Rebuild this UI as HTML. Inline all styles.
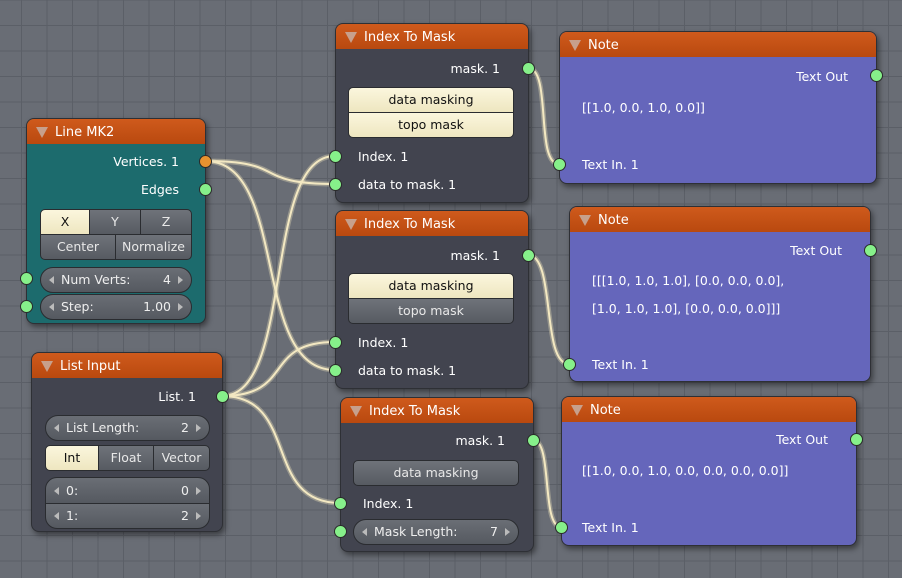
<!DOCTYPE html>
<html><head><meta charset="utf-8"><style>
*{box-sizing:border-box;margin:0;padding:0}
body{width:902px;height:578px;overflow:hidden;position:relative;font-family:"DejaVu Sans","Liberation Sans",sans-serif;font-size:12.5px;color:#fff;
background-color:#696d75;
background-image:linear-gradient(#5b5f67 1px,transparent 1px),linear-gradient(90deg,#5b5f67 1px,transparent 1px);
background-size:25.5px 25.5px;background-position:21px 25px}
.node{position:absolute;border-radius:8px;border:1px solid #2e3035;box-shadow:2px 3px 6px rgba(0,0,0,.45);overflow:hidden}
.hd{height:25px;background:linear-gradient(#cf5a1c,#b9490f);position:relative}
.hd span{position:absolute;left:28px;top:6px;font-size:13px;color:#fff}
.tri{position:absolute;left:9px;top:8px;width:0;height:0;border-left:6px solid transparent;border-right:6px solid transparent;border-top:11px solid #c7a08c}
.dark{background:#42444f}
.teal{background:#1c6b6d}
.note{background:#6566bb}
.t{position:absolute;line-height:16px;white-space:nowrap}
.r{text-align:right}
.sk{position:absolute;width:13px;height:13px;border-radius:50%;background:#86f08a;border:1px solid #2a2a2a;margin:-6.5px 0 0 -6.5px;z-index:5}
.btn{position:absolute;border:1px solid #2a2c30;background:linear-gradient(#6f737a,#575b62);color:#e8e8e8;text-align:center;font-size:12.5px}
.sel{background:linear-gradient(#fbf6dd,#eee6c0);color:#111}
.pill{position:absolute;border:1px solid #2a2c30;background:linear-gradient(#6a6e75,#555960);border-radius:13px;color:#eee;font-size:12.5px}
.pill .a{position:absolute;top:50%;margin-top:-4px;width:0;height:0;border-top:4px solid transparent;border-bottom:4px solid transparent}
.la{left:8px;border-right:5px solid #bbb}
.ra{right:8px;border-left:5px solid #bbb}
</style></head><body>

<svg width="902" height="578" style="position:absolute;left:0;top:0;z-index:1" fill="none">
<g stroke="rgba(240,230,190,0.35)" stroke-width="5" stroke-linecap="round">
<path d="M205 161 C290 161 250 184 335 184"/>
<path d="M205 161 C290 161 250 370 335 370"/>
<path d="M222 396 C295 396 262 156 335 156"/>
<path d="M222 396 C295 396 262 342 335 342"/>
<path d="M222 396 C300 396 262 503 340 503"/>
<path d="M528 68 C552 68 535 164 559 164"/>
<path d="M528 255 C556 255 541 364 569 364"/>
<path d="M533 440 C553 440 541 527 561 527"/>
</g>
<g stroke="#f3e8c2" stroke-width="2" stroke-linecap="round">
<path d="M205 161 C290 161 250 184 335 184"/>
<path d="M205 161 C290 161 250 370 335 370"/>
<path d="M222 396 C295 396 262 156 335 156"/>
<path d="M222 396 C295 396 262 342 335 342"/>
<path d="M222 396 C300 396 262 503 340 503"/>
<path d="M528 68 C552 68 535 164 559 164"/>
<path d="M528 255 C556 255 541 364 569 364"/>
<path d="M533 440 C553 440 541 527 561 527"/>
</g>
</svg>

<!-- Line MK2 -->
<div class="node teal" style="left:26px;top:118px;width:180px;height:206px;z-index:2">
<div class="hd"><div class="tri"></div><span>Line MK2</span></div>
<div class="t r" style="right:26px;top:35px">Vertices. 1</div>
<div class="t r" style="right:26px;top:63px">Edges</div>
<div class="btn sel" style="left:13px;top:90px;width:50px;height:26px;line-height:24px;border-radius:5px 0 0 0">X</div>
<div class="btn" style="left:62px;top:90px;width:52px;height:26px;line-height:24px">Y</div>
<div class="btn" style="left:113px;top:90px;width:52px;height:26px;line-height:24px;border-radius:0 5px 0 0">Z</div>
<div class="btn" style="left:13px;top:115px;width:76px;height:26px;line-height:24px;border-radius:0 0 0 5px">Center</div>
<div class="btn" style="left:88px;top:115px;width:77px;height:26px;line-height:24px;border-radius:0 0 5px 0">Normalize</div>
<div class="pill" style="left:13px;top:148px;width:152px;height:26px"><i class="a la"></i><span class="t" style="left:20px;top:4px">Num Verts:</span><span class="t" style="right:20px;top:4px">4</span><i class="a ra"></i></div>
<div class="pill" style="left:13px;top:175px;width:152px;height:26px"><i class="a la"></i><span class="t" style="left:20px;top:4px">Step:</span><span class="t" style="right:20px;top:4px">1.00</span><i class="a ra"></i></div>
</div>
<div class="sk" style="left:205px;top:161px;background:#e8922f"></div>
<div class="sk" style="left:205px;top:189px"></div>
<div class="sk" style="left:26px;top:278px"></div>
<div class="sk" style="left:26px;top:306px"></div>

<!-- List Input -->
<div class="node dark" style="left:31px;top:352px;width:192px;height:180px;z-index:2">
<div class="hd"><div class="tri"></div><span>List Input</span></div>
<div class="t r" style="right:26px;top:36px">List. 1</div>
<div class="pill" style="left:13px;top:62px;width:165px;height:26px"><i class="a la"></i><span class="t" style="left:20px;top:4px">List Length:</span><span class="t" style="right:20px;top:4px">2</span><i class="a ra"></i></div>
<div class="btn sel" style="left:13px;top:92px;width:54px;height:26px;line-height:24px;border-radius:5px 0 0 5px">Int</div>
<div class="btn" style="left:66px;top:92px;width:56px;height:26px;line-height:24px">Float</div>
<div class="btn" style="left:121px;top:92px;width:57px;height:26px;line-height:24px;border-radius:0 5px 5px 0">Vector</div>
<div class="pill" style="left:13px;top:124px;width:165px;height:27px;border-radius:12px 12px 0 0"><i class="a la"></i><span class="t" style="left:20px;top:5px">0:</span><span class="t" style="right:20px;top:5px">0</span><i class="a ra"></i></div>
<div class="pill" style="left:13px;top:150px;width:165px;height:26px;border-radius:0 0 12px 12px"><i class="a la"></i><span class="t" style="left:20px;top:4px">1:</span><span class="t" style="right:20px;top:4px">2</span><i class="a ra"></i></div>
</div>
<div class="sk" style="left:222px;top:396px"></div>

<!-- Index To Mask 1 -->
<div class="node dark" style="left:335px;top:23px;width:194px;height:180px;z-index:2">
<div class="hd"><div class="tri"></div><span>Index To Mask</span></div>
<div class="t r" style="right:28px;top:37px">mask. 1</div>
<div class="btn sel" style="left:12px;top:63px;width:166px;height:26px;line-height:24px;border-radius:5px 5px 0 0">data masking</div>
<div class="btn sel" style="left:12px;top:88px;width:166px;height:26px;line-height:24px;border-radius:0 0 5px 5px">topo mask</div>
<div class="t" style="left:22px;top:125px">Index. 1</div>
<div class="t" style="left:22px;top:153px">data to mask. 1</div>
</div>
<div class="sk" style="left:528px;top:68px"></div>
<div class="sk" style="left:335px;top:156px"></div>
<div class="sk" style="left:335px;top:184px"></div>

<!-- Index To Mask 2 -->
<div class="node dark" style="left:335px;top:210px;width:194px;height:179px;z-index:2">
<div class="hd"><div class="tri"></div><span>Index To Mask</span></div>
<div class="t r" style="right:28px;top:37px">mask. 1</div>
<div class="btn sel" style="left:12px;top:62px;width:166px;height:26px;line-height:24px;border-radius:5px 5px 0 0">data masking</div>
<div class="btn" style="left:12px;top:87px;width:166px;height:26px;line-height:24px;border-radius:0 0 5px 5px">topo mask</div>
<div class="t" style="left:22px;top:124px">Index. 1</div>
<div class="t" style="left:22px;top:152px">data to mask. 1</div>
</div>
<div class="sk" style="left:528px;top:255px"></div>
<div class="sk" style="left:335px;top:342px"></div>
<div class="sk" style="left:335px;top:370px"></div>

<!-- Index To Mask 3 -->
<div class="node dark" style="left:340px;top:397px;width:194px;height:155px;z-index:2">
<div class="hd"><div class="tri"></div><span>Index To Mask</span></div>
<div class="t r" style="right:28px;top:35px">mask. 1</div>
<div class="btn" style="left:12px;top:62px;width:166px;height:26px;line-height:24px;border-radius:5px">data masking</div>
<div class="t" style="left:22px;top:98px">Index. 1</div>
<div class="pill" style="left:12px;top:121px;width:166px;height:26px"><i class="a la"></i><span class="t" style="left:20px;top:4px">Mask Length:</span><span class="t" style="right:20px;top:4px">7</span><i class="a ra"></i></div>
</div>
<div class="sk" style="left:533px;top:440px"></div>
<div class="sk" style="left:340px;top:503px"></div>
<div class="sk" style="left:340px;top:531px"></div>

<!-- Note 1 -->
<div class="node note" style="left:559px;top:31px;width:318px;height:153px;z-index:2">
<div class="hd"><div class="tri"></div><span>Note</span></div>
<div class="t r" style="right:28px;top:37px">Text Out</div>
<div class="t" style="left:22px;top:68px">[[1.0, 0.0, 1.0, 0.0]]</div>
<div class="t" style="left:22px;top:125px">Text In. 1</div>
</div>
<div class="sk" style="left:876px;top:75px"></div>
<div class="sk" style="left:559px;top:164px"></div>

<!-- Note 2 -->
<div class="node note" style="left:569px;top:206px;width:302px;height:176px;z-index:2">
<div class="hd"><div class="tri"></div><span>Note</span></div>
<div class="t r" style="right:28px;top:36px">Text Out</div>
<div class="t" style="left:22px;top:66px">[[[1.0, 1.0, 1.0], [0.0, 0.0, 0.0],</div>
<div class="t" style="left:22px;top:94px">[1.0, 1.0, 1.0], [0.0, 0.0, 0.0]]]</div>
<div class="t" style="left:22px;top:150px">Text In. 1</div>
</div>
<div class="sk" style="left:870px;top:250px"></div>
<div class="sk" style="left:569px;top:364px"></div>

<!-- Note 3 -->
<div class="node note" style="left:561px;top:396px;width:296px;height:150px;z-index:2">
<div class="hd"><div class="tri"></div><span>Note</span></div>
<div class="t r" style="right:28px;top:35px">Text Out</div>
<div class="t" style="left:20px;top:66px">[[1.0, 0.0, 1.0, 0.0, 0.0, 0.0, 0.0]]</div>
<div class="t" style="left:20px;top:123px">Text In. 1</div>
</div>
<div class="sk" style="left:856px;top:439px"></div>
<div class="sk" style="left:561px;top:527px"></div>

</body></html>
